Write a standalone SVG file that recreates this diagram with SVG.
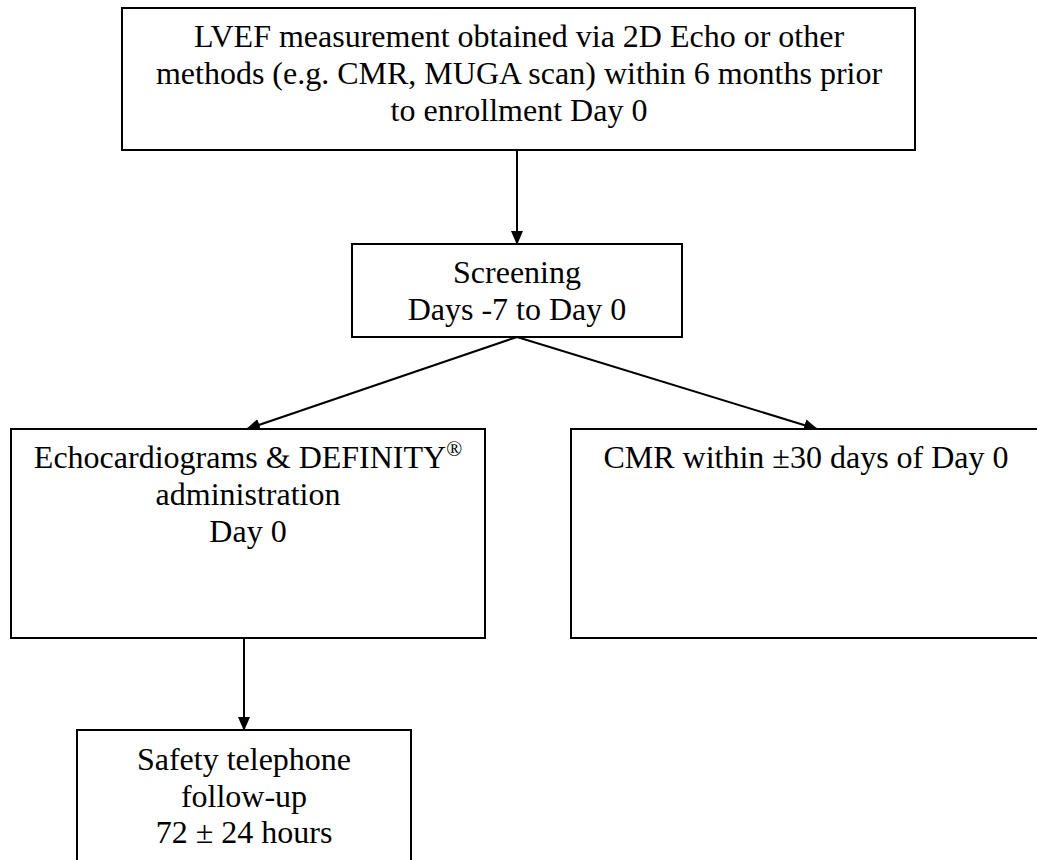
<svg xmlns="http://www.w3.org/2000/svg" width="1037" height="860" viewBox="0 0 1037 860">
<style>
.box{fill:#fff;stroke:#000;stroke-width:2}
.t{font-family:"Liberation Serif","Times New Roman",serif;font-size:32px;fill:#000;text-anchor:middle}
.c{stroke:#000;stroke-width:2;fill:none}
</style>
<defs>
<marker id="ah" markerWidth="14" markerHeight="12" refX="13" refY="6" orient="auto" markerUnits="userSpaceOnUse">
<path d="M0,0 L14,6 L0,12 Z" fill="#000"/>
</marker>
</defs>
<g id="connectors">
<line class="c" x1="517" y1="150" x2="517" y2="244" marker-end="url(#ah)"/>
<line class="c" x1="517" y1="337" x2="247" y2="429" marker-end="url(#ah)"/>
<line class="c" x1="517" y1="337" x2="817" y2="429" marker-end="url(#ah)"/>
<line class="c" x1="244" y1="638" x2="244" y2="730" marker-end="url(#ah)"/>
</g>
<g id="n1">
<rect class="box" x="122" y="8" width="793" height="142"/>
<text class="t" x="519" y="47">LVEF measurement obtained via 2D Echo or other</text>
<text class="t" x="519" y="84">methods (e.g. CMR, MUGA scan) within 6 months prior</text>
<text class="t" x="519" y="121">to enrollment Day 0</text>
</g>
<g id="n2">
<rect class="box" x="352" y="244" width="330" height="93"/>
<text class="t" x="517" y="283">Screening</text>
<text class="t" x="517" y="320">Days -7 to Day 0</text>
</g>
<g id="n3">
<rect class="box" x="11" y="429" width="474" height="209"/>
<text class="t" x="248" y="468">Echocardiograms &amp; DEFINITY<tspan dy="-12" font-size="21">®</tspan></text>
<text class="t" x="248" y="505">administration</text>
<text class="t" x="248" y="542">Day 0</text>
</g>
<g id="n4">
<rect class="box" x="571" y="429" width="480" height="209"/>
<text class="t" x="806" y="468">CMR within ±30 days of Day 0</text>
</g>
<g id="n5">
<rect class="box" x="77" y="730" width="334" height="140"/>
<text class="t" x="244" y="770">Safety telephone</text>
<text class="t" x="244" y="807">follow-up</text>
<text class="t" x="244" y="843">72 ± 24 hours</text>
</g>
</svg>
